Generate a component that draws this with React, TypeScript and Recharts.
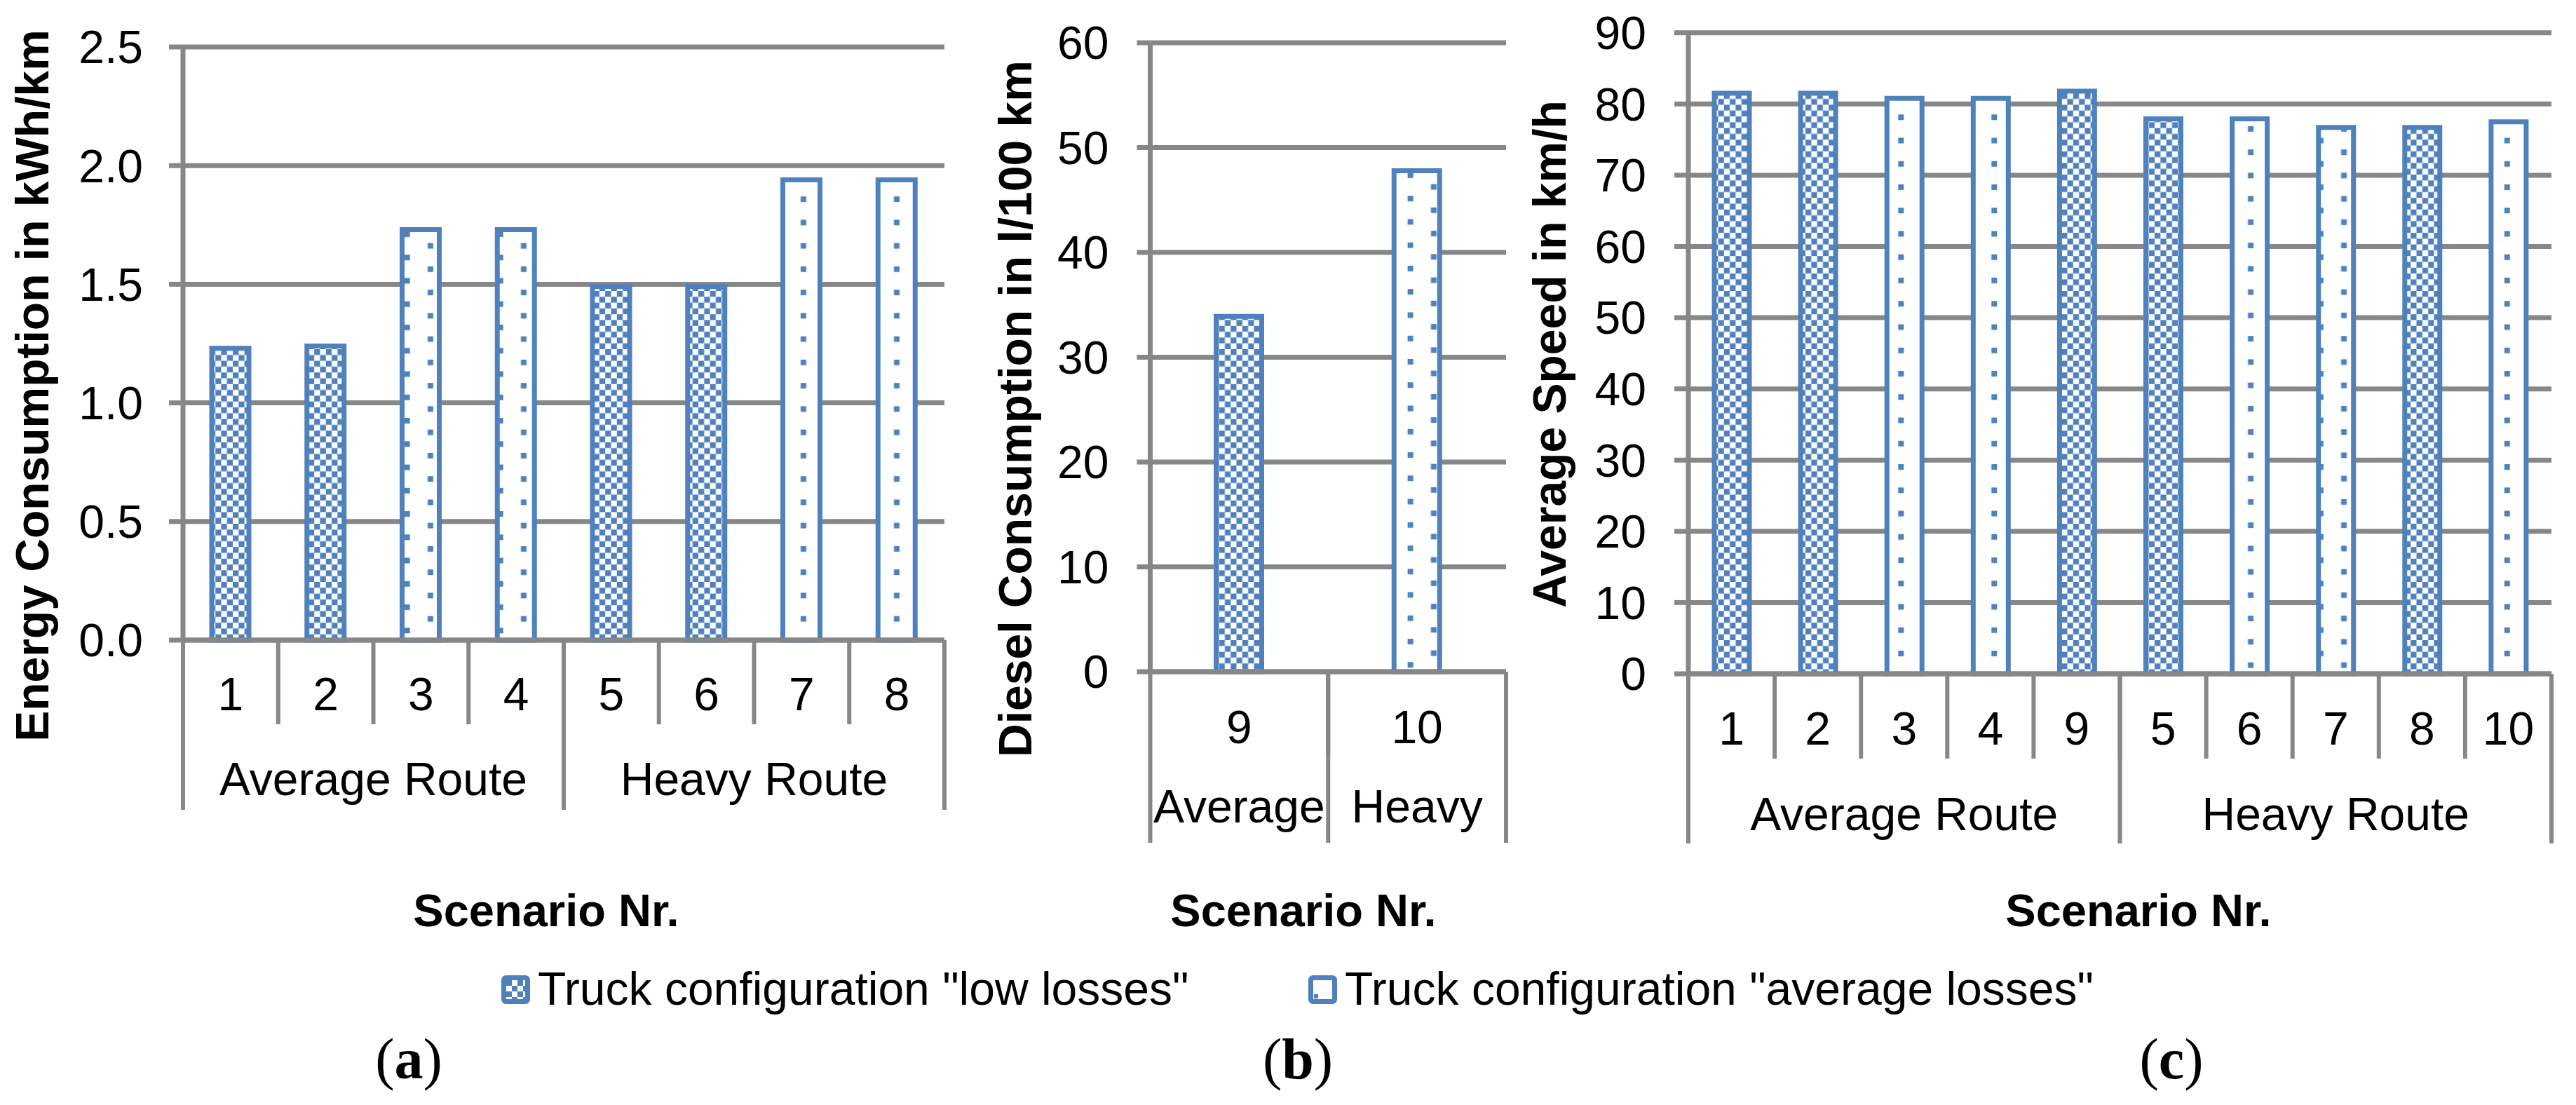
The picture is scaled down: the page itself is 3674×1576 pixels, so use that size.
import React from 'react';
import { BarChart, Bar, XAxis, YAxis, CartesianGrid, Legend } from 'recharts';

const BLUE = '#4F81BD';
const GRID = '#878787';
const FONT = '"Liberation Sans", Arial, Helvetica, sans-serif';
const SERIF = '"Liberation Serif", "Times New Roman", serif';
const PAGE_H = 1576;

// (a) energy consumption of the electric trucks
const energyScenarios = ['1', '2', '3', '4', '5', '6', '7', '8'];
const energyRoutes = [
  'Average Route', 'Average Route', 'Average Route', 'Average Route',
  'Heavy Route', 'Heavy Route', 'Heavy Route', 'Heavy Route',
];
const energyLowLosses = [1.23, 1.24, null, null, 1.49, 1.49, null, null];
const energyAvgLosses = [null, null, 1.73, 1.73, null, null, 1.94, 1.94];
const energyTicks = [0, 0.5, 1.0, 1.5, 2.0, 2.5];

// (b) diesel consumption
const dieselScenarios = ['9', '10'];
const dieselRoutes = ['Average', 'Heavy'];
const dieselLowLosses = [33.9, null];
const dieselAvgLosses = [null, 47.8];
const dieselTicks = [0, 10, 20, 30, 40, 50, 60];

// (c) average speed
const speedScenarios = ['1', '2', '3', '4', '9', '5', '6', '7', '8', '10'];
const speedRoutes = [
  'Average Route', 'Average Route', 'Average Route', 'Average Route', 'Average Route',
  'Heavy Route', 'Heavy Route', 'Heavy Route', 'Heavy Route', 'Heavy Route',
];
const speedLowLosses = [81.5, 81.5, null, null, 81.8, 77.9, null, null, 76.7, null];
const speedAvgLosses = [null, null, 80.8, 80.8, null, null, 77.9, 76.7, null, 77.5];
const speedTicks = [0, 10, 20, 30, 40, 50, 60, 70, 80, 90];

const seriesKeys = ['low', 'avg'];
const seriesNames: Record<string, string> = {
  low: 'Truck configuration "low losses"',
  avg: 'Truck configuration "average losses"',
};

const makeRows = (scenarios: string[], routes: string[], low: (number | null)[], avg: (number | null)[]) =>
  scenarios.map((s, i) => ({ scenario: s, route: routes[i], low: low[i], avg: avg[i] }));

function Patterns({ id, dotX, dotY }: { id: string; dotX: number; dotY: number }) {
  const c = 8.3;
  return (
    <defs>
      <pattern id={`check-${id}`} patternUnits="userSpaceOnUse" x={0} y={0} width={c * 2} height={c * 2}>
        <rect width={c * 2} height={c * 2} fill="#fff" />
        <rect width={c} height={c} fill={BLUE} />
        <rect x={c} y={c} width={c} height={c} fill={BLUE} />
      </pattern>
      <pattern id={`dots-${id}`} patternUnits="userSpaceOnUse" x={dotX} y={dotY} width={66.5} height={33.25}>
        <rect width={66.5} height={33.25} fill="#fff" />
        <rect x={0} y={0} width={8} height={8} fill={BLUE} />
        <rect x={33.25} y={16.6} width={8} height={8} fill={BLUE} />
      </pattern>
    </defs>
  );
}

function ScenarioTick(props: any) {
  const { x, y, payload, index, band, lineLen, baseline } = props;
  const l = x - band / 2;
  return (
    <g>
      {index > 0 && <line x1={l} x2={l} y1={y} y2={y + lineLen} stroke={GRID} strokeWidth={6} />}
      <text x={x} y={y + baseline} textAnchor="middle" fontSize={66} fontFamily={FONT} fill="#000">
        {payload.value}
      </text>
    </g>
  );
}

function RouteTick(props: any) {
  const { x, y, payload, index, band, upper, lower, count, baseline } = props;
  const l = x - band / 2;
  const r = x + band / 2;
  return (
    <g>
      <line x1={l} x2={l} y1={y - upper} y2={y + lower} stroke={GRID} strokeWidth={6} />
      {index === count - 1 && <line x1={r} x2={r} y1={y - upper} y2={y + lower} stroke={GRID} strokeWidth={6} />}
      <text x={x} y={y + baseline} textAnchor="middle" fontSize={66} fontFamily={FONT} fill="#000">
        {payload.value}
      </text>
    </g>
  );
}

function YTitle({ tx, ty, text }: any) {
  return (
    <text
      x={tx}
      y={ty}
      dy={23.6}
      transform={`rotate(-90, ${tx}, ${ty})`}
      textAnchor="middle"
      fontSize={66}
      fontWeight="bold"
      fontFamily={FONT}
      fill="#000"
    >
      {text}
    </text>
  );
}

function XTitle({ tx, ty, text }: any) {
  return (
    <text x={tx} y={ty} textAnchor="middle" fontSize={65} fontWeight="bold" fontFamily={FONT} fill="#000">
      {text}
    </text>
  );
}

function LegendContent(props: any) {
  const payload = props.payload || [];
  const entries = seriesKeys.map((key) => ({
    key,
    label: payload.find((e: any) => e.dataKey === key)?.value ?? seriesNames[key],
  }));
  return (
    <svg width={2400} height={48} style={{ display: 'block', overflow: 'visible' }}>
      <defs>
        <pattern id="legend-check" patternUnits="userSpaceOnUse" x={7} y={7} width={16} height={16}>
          <rect width={16} height={16} fill="#fff" />
          <rect width={8} height={8} fill={BLUE} />
          <rect x={8} y={8} width={8} height={8} fill={BLUE} />
        </pattern>
      </defs>
      {entries.map((e, i) => {
        const x0 = i * 1151;
        return (
          <g key={e.key}>
            <rect
              x={x0 + 3.5}
              y={3.5}
              width={34}
              height={34}
              rx={3}
              fill={e.key === 'low' ? 'url(#legend-check)' : '#fff'}
              stroke={BLUE}
              strokeWidth={7}
            />
            {e.key === 'avg' && <rect x={x0 + 8} y={27} width={6} height={6} fill={BLUE} />}
            <text x={x0 + 52} y={42} fontSize={66} fontFamily={FONT} fill="#000">
              {e.label}
            </text>
          </g>
        );
      })}
    </svg>
  );
}

type PanelProps = {
  id: string;
  left: number;
  width: number;
  rows: any[];
  ticks: number[];
  format: (v: number) => string;
  yTitle: string;
  titleX: number;
  titleY: number;
  top: number;
  plotBottom: number;
  yAxisWidth: number;
  right: number;
  numHeight: number;
  groupHeight: number;
  tickSize: number;
  tickMargin: number;
  barSize: number;
  numBaseline: number;
  groupBaseline: number;
  xTitleX: number;
  dotX: number;
  dotY: number;
  legend?: boolean;
};

function Panel(p: PanelProps) {
  const n = p.rows.length;
  const plotWidth = p.width - p.yAxisWidth - p.right;
  const band = plotWidth / n;
  const groupCount = new Set(p.rows.map((r) => r.route)).size;
  const groupBand = plotWidth / groupCount;
  const bottom = PAGE_H - p.plotBottom - p.numHeight - p.groupHeight;
  const max = p.ticks[p.ticks.length - 1];

  return (
    <div style={{ position: 'absolute', left: p.left, top: 0 }}>
      <BarChart
        width={p.width}
        height={PAGE_H}
        data={p.rows}
        margin={{ top: p.top, right: p.right, left: 0, bottom }}
      >
        <Patterns id={p.id} dotX={p.dotX} dotY={p.dotY} />
        <CartesianGrid vertical={false} stroke={GRID} strokeWidth={7} />
        <XAxis
          xAxisId={0}
          dataKey="scenario"
          height={p.numHeight}
          interval={0}
          tickSize={0}
          tickMargin={0}
          tickLine={false}
          axisLine={{ stroke: GRID, strokeWidth: 7 }}
          tick={<ScenarioTick band={band} lineLen={p.numHeight} baseline={p.numBaseline} />}
        />
        <XAxis
          xAxisId="route"
          dataKey="route"
          allowDuplicatedCategory={false}
          height={p.groupHeight}
          interval={0}
          tickSize={0}
          tickMargin={0}
          tickLine={false}
          axisLine={false}
          tick={
            <RouteTick
              band={groupBand}
              upper={p.numHeight}
              lower={p.groupHeight}
              count={groupCount}
              baseline={p.groupBaseline}
            />
          }
          label={<XTitle tx={p.xTitleX} ty={1321} text="Scenario Nr." />}
        />
        <YAxis
          width={p.yAxisWidth}
          domain={[0, max]}
          ticks={p.ticks}
          interval={0}
          tickSize={p.tickSize}
          tickMargin={p.tickMargin}
          tickFormatter={p.format}
          tick={{ fontSize: 66, fill: '#000', fontFamily: FONT }}
          tickLine={{ stroke: GRID, strokeWidth: 7 }}
          axisLine={{ stroke: GRID, strokeWidth: 7 }}
          label={<YTitle tx={p.titleX} ty={p.titleY} text={p.yTitle} />}
        />
        <Bar
          dataKey="low"
          name={seriesNames.low}
          stackId="s"
          barSize={p.barSize}
          fill={`url(#check-${p.id})`}
          stroke={BLUE}
          strokeWidth={7}
          isAnimationActive={false}
        />
        <Bar
          dataKey="avg"
          name={seriesNames.avg}
          stackId="s"
          barSize={p.barSize}
          fill={`url(#dots-${p.id})`}
          stroke={BLUE}
          strokeWidth={7}
          isAnimationActive={false}
        />
        {p.legend && (
          <Legend
            verticalAlign="middle"
            align="center"
            layout="horizontal"
            wrapperStyle={{ left: 715, top: 1391, width: 2400, height: 48 }}
            content={<LegendContent />}
          />
        )}
      </BarChart>
    </div>
  );
}

export default function App() {
  return (
    <div
      style={{
        position: 'absolute',
        left: 0,
        top: 0,
        width: 3674,
        height: PAGE_H,
        background: '#fff',
        overflow: 'hidden',
      }}
    >
      <Panel
        id="a"
        left={0}
        width={1400}
        rows={makeRows(energyScenarios, energyRoutes, energyLowLosses, energyAvgLosses)}
        ticks={energyTicks}
        format={(v) => v.toFixed(1)}
        yTitle="Energy Consumption in kWh/km"
        titleX={45.5}
        titleY={550}
        top={67}
        plotBottom={913}
        yAxisWidth={261}
        right={53}
        numHeight={120}
        groupHeight={122}
        tickSize={20}
        tickMargin={37}
        barSize={53}
        numBaseline={100}
        groupBaseline={101}
        xTitleX={779}
        dotX={576.7}
        dotY={363.3}
        legend
      />
      <Panel
        id="b"
        left={1390}
        width={780}
        rows={makeRows(dieselScenarios, dieselRoutes, dieselLowLosses, dieselAvgLosses)}
        ticks={dieselTicks}
        format={(v) => String(v)}
        yTitle="Diesel Consumption in l/100 km"
        titleX={57.5}
        titleY={583}
        top={61}
        plotBottom={958}
        yAxisWidth={250.5}
        right={22}
        numHeight={120}
        groupHeight={124}
        tickSize={19}
        tickMargin={40}
        barSize={65}
        numBaseline={102}
        groupBaseline={95}
        xTitleX={469}
        dotX={617.6}
        dotY={246}
      />
      <Panel
        id="c"
        left={2160}
        width={1514}
        rows={makeRows(speedScenarios, speedRoutes, speedLowLosses, speedAvgLosses)}
        ticks={speedTicks}
        format={(v) => String(v)}
        yTitle="Average Speed in km/h"
        titleX={49.5}
        titleY={505}
        top={46.7}
        plotBottom={961}
        yAxisWidth={248}
        right={35}
        numHeight={121}
        groupHeight={121}
        tickSize={20}
        tickMargin={40}
        barSize={50}
        numBaseline={101}
        groupBaseline={102}
        xTitleX={890}
        dotX={547.3}
        dotY={163.3}
      />
      <svg
        width={3674}
        height={PAGE_H}
        style={{ position: 'absolute', left: 0, top: 0, pointerEvents: 'none' }}
      >
        {[
          { x: 583, l: 'a' },
          { x: 1851, l: 'b' },
          { x: 3097, l: 'c' },
        ].map((c) => (
          <text key={c.l} x={c.x} y={1538} textAnchor="middle" fontSize={82} fontFamily={SERIF} fill="#000">
            (<tspan fontWeight="bold">{c.l}</tspan>)
          </text>
        ))}
      </svg>
    </div>
  );
}
